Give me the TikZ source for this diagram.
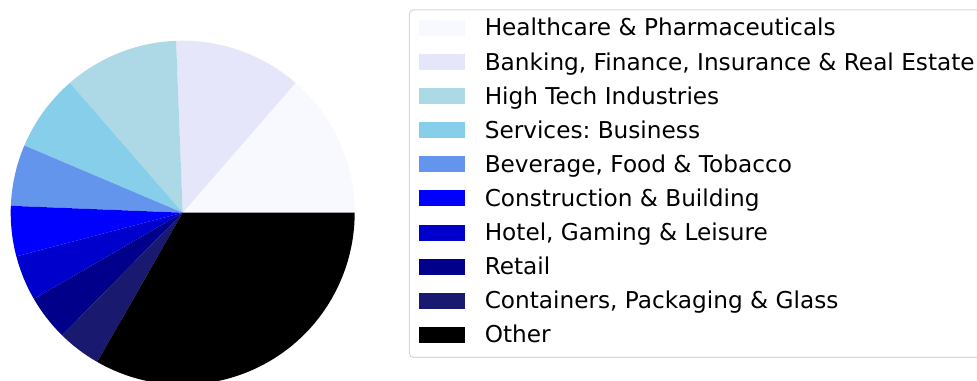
\documentclass[tikz,border=0pt]{standalone}
\usepackage{fontspec}
\setmainfont{DejaVu Sans}
\usepackage{tikz}
\frenchspacing

\definecolor{ghostwhite}{RGB}{248,248,255}
\definecolor{lavender}{RGB}{230,230,250}
\definecolor{lightblue}{RGB}{173,216,230}
\definecolor{skyblue}{RGB}{135,206,235}
\definecolor{cornflowerblue}{RGB}{100,149,237}
\definecolor{pureblue}{RGB}{0,0,255}
\definecolor{mediumblue}{RGB}{0,0,205}
\definecolor{darkblue}{RGB}{0,0,139}
\definecolor{midnightblue}{RGB}{25,25,112}
\definecolor{legendframe}{RGB}{214,214,214}

\begin{document}
\begin{tikzpicture}[x=0.75pt,y=0.75pt,yscale=-1,xscale=1,
  keybox/.style={draw=none,minimum width=34.1pt,minimum height=12pt,inner sep=0pt},
  keytext/.style={anchor=base west,inner sep=0pt,font=\fontsize{17.4}{20}\selectfont}]
\useasboundingbox (0,0) rectangle (977,381);

%Pie: Healthcare
\fill [ghostwhite] (182.7,212.7) -- ++(0:172) arc [start angle=0, end angle=-49.0, radius=172] -- cycle ;
%Pie: Banking
\fill [lavender] (182.7,212.7) -- ++(-49.0:172) arc [start angle=-49.0, end angle=-92.2, radius=172] -- cycle ;
%Pie: High Tech
\fill [lightblue] (182.7,212.7) -- ++(-92.2:172) arc [start angle=-92.2, end angle=-131.0, radius=172] -- cycle ;
%Pie: Services
\fill [skyblue] (182.7,212.7) -- ++(-131.0:172) arc [start angle=-131.0, end angle=-157.0, radius=172] -- cycle ;
%Pie: Beverage
\fill [cornflowerblue] (182.7,212.7) -- ++(-157.0:172) arc [start angle=-157.0, end angle=-177.7, radius=172] -- cycle ;
%Pie: Construction
\fill [pureblue] (182.7,212.7) -- ++(-177.7:172) arc [start angle=-177.7, end angle=-194.7, radius=172] -- cycle ;
%Pie: Hotel
\fill [mediumblue] (182.7,212.7) -- ++(-194.7:172) arc [start angle=-194.7, end angle=-210.1, radius=172] -- cycle ;
%Pie: Retail
\fill [darkblue] (182.7,212.7) -- ++(-210.1:172) arc [start angle=-210.1, end angle=-225.5, radius=172] -- cycle ;
%Pie: Containers
\fill [midnightblue] (182.7,212.7) -- ++(-225.5:172) arc [start angle=-225.5, end angle=-240.2, radius=172] -- cycle ;
%Pie: Other
\fill [black] (182.7,212.7) -- ++(-240.2:172) arc [start angle=-240.2, end angle=-360, radius=172] -- cycle ;

%Legend frame
\draw [legendframe, line width=0.75pt, fill=white, rounded corners=3pt] (409.3,10) rectangle (995,357.3) ;

%Legend keys
\node [keybox, fill=ghostwhite] (keyHealth) at (441.8,28) {};
\node [keybox, fill=lavender] (keyBank) at (441.8,62.1) {};
\node [keybox, fill=lightblue] (keyTech) at (441.8,96.2) {};
\node [keybox, fill=skyblue] (keyServ) at (441.8,130.2) {};
\node [keybox, fill=cornflowerblue] (keyBev) at (441.8,164.3) {};
\node [keybox, fill=pureblue] (keyConst) at (441.8,198.4) {};
\node [keybox, fill=mediumblue] (keyHotel) at (441.8,232.5) {};
\node [keybox, fill=darkblue] (keyRetail) at (441.8,266.6) {};
\node [keybox, fill=midnightblue] (keyCont) at (441.8,300.6) {};
\node [keybox, fill=black] (keyOther) at (441.8,334.7) {};

%Legend labels
\node [keytext] (lblHealth) at (484.5,36) {Healthcare \& Pharmaceuticals};
\node [keytext] (lblBank) at (484.5,70.1) {Banking, Finance, Insurance \& Real Estate};
\node [keytext] (lblTech) at (484.5,104.2) {High Tech Industries};
\node [keytext] (lblServ) at (484.5,138.2) {Services: Business};
\node [keytext] (lblBev) at (484.5,172.3) {Beverage, Food \& Tobacco};
\node [keytext] (lblConst) at (484.5,206.4) {Construction \& Building};
\node [keytext] (lblHotel) at (484.5,240.5) {Hotel, Gaming \& Leisure};
\node [keytext] (lblRetail) at (484.5,274.6) {Retail};
\node [keytext] (lblCont) at (484.5,308.6) {Containers, Packaging \& Glass};
\node [keytext] (lblOther) at (484.5,342.7) {Other};

\end{tikzpicture}
\end{document}
